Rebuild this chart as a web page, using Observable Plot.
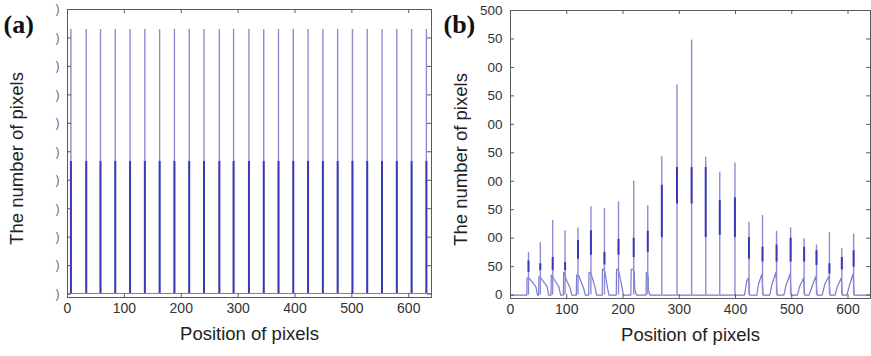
<!DOCTYPE html>
<html><head><meta charset="utf-8">
<script src="https://cdn.jsdelivr.net/npm/d3@7"></script>
<script src="https://cdn.jsdelivr.net/npm/@observablehq/plot@0.6"></script>
<style>
body{margin:0;background:#fff;}
#wrap{position:relative;width:871px;height:356px;overflow:hidden;background:#fff;}
#pa,#pb{position:absolute;top:0;}
#pa{left:0;} #pb{left:440px;}
</style></head><body><div id="wrap"><div id="pa"></div><div id="pb"></div></div>
<script>
// ---- shared axis data ----
const xTicks = [0, 100, 200, 300, 400, 500, 600];
const yTicks = [0, 50, 100, 150, 200, 250, 300, 350, 400, 450, 500];
const yTickLabelsA = [")", ")", ")", ")", ")", ")", ")", ")", ")", ")", ")"];
const yTickLabelsB = ["0", "50", "00", "50", "00", "50", "00", "50", "00", "50", "500"];
const panelTags = ["(a)", "(b)"];
const xLabel = "Position of pixels";
const yLabel = "The number of pixels";

// ---- panel (a) ----
const posA  = [6, 33, 58, 84, 110, 136, 162, 188, 214, 240, 267, 292, 319, 345, 371, 397, 423, 449, 475, 501, 527, 553, 579, 605, 631];
const tallA = [465, 465, 465, 465, 465, 465, 465, 465, 465, 465, 465, 465, 465, 465, 465, 465, 465, 465, 465, 465, 465, 465, 465, 465, 465];
const midA  = [233, 233, 233, 233, 233, 233, 233, 233, 233, 233, 233, 233, 233, 233, 233, 233, 233, 233, 233, 233, 233, 233, 233, 233, 233];
const baseA = 1;

// ---- panel (b) ----
const posB  = [32, 53, 75, 97, 120, 143, 167, 192, 219, 244, 269, 296, 322, 347, 372, 399, 424, 448, 473, 498, 522, 544, 567, 589, 610];
const tallB = [75, 92, 131, 113, 118, 155, 152, 164, 200, 157, 243, 369, 448, 242, 216, 232, 128, 140, 112, 118, 99, 88, 110, 82, 107];
const midB  = [60, 55, 66, 57, 96, 113, 75, 98, 100, 112, 193, 224, 224, 224, 166, 171, 101, 84, 88, 100, 84, 78, 55, 66, 78];
const lowB  = [40, 43, 43, 43, 63, 70, 53, 70, 66, 75, 101, 160, 160, 101, 105, 101, 63, 58, 58, 58, 58, 52, 37, 44, 49];
// hump around each peak (rise before, shoulder after)
const riseW = [3, 3, 3, 3, 3, 4, 4, 4, 5, 3, 1, 1, 1, 1, 1, 1, 8, 10, 12, 12, 12, 13, 13, 12, 12];
const riseS = [0.5, 0.5, 0.5, 0.5, 0.5, 0.5, 0.5, 0.5, 0.5, 0.5, 0.5, 0.5, 0.5, 0.5, 0.5, 0.5, 4, 3, 4, 4, 4, 5, 5, 4, 4];
const riseA = [30, 32, 35, 40, 35, 40, 45, 45, 45, 40, 0, 0, 0, 0, 0, 0, 25, 20, 20, 18, 15, 15, 20, 15, 15];
const riseB = [30, 32, 35, 40, 35, 40, 45, 45, 45, 40, 0, 0, 0, 0, 0, 0, 30, 37, 40, 37, 30, 33, 33, 30, 37];
const fallW = [16, 15, 14, 12, 13, 10, 8, 9, 5, 4, 1, 1, 1, 1, 1, 1, 2, 2, 2, 2, 2, 2, 2, 2, 2];
const fallC = [30, 30, 30, 30, 35, 35, 40, 40, 40, 30, 0, 0, 0, 0, 0, 0, 0, 0, 0, 0, 0, 0, 0, 0, 0];
const fallD = [15, 15, 15, 12, 12, 15, 15, 15, 10, 10, 0, 0, 0, 0, 0, 0, 0, 0, 0, 0, 0, 0, 0, 0, 0];

const xDomain = [0, 640];
const yDomain = [-6, 500];

// ---- styles ----
const LIGHT = "#8c8cd4", DARK = "#3a3ab6", LINE = "#7a7ad0", FRAME = "#5a5a5a", TXT = "#333";
const FONT = "'Liberation Sans', Arial, sans-serif";

const peaksA = posA.map((p, i) => ({pos: p, tall: tallA[i], mid: midA[i]}));
const peaksB = posB.map((p, i) => ({pos: p, tall: tallB[i], mid: midB[i], low: lowB[i]}));
const lineB = [{x: xDomain[0], y: 0}];
posB.forEach((p, i) => {
  lineB.push(
    {x: p - riseW[i], y: 0},
    {x: p - riseW[i] + riseS[i], y: riseA[i]},
    {x: p - 1, y: riseB[i]},
    {x: p + 1, y: fallC[i]},
    {x: p + Math.max(fallW[i] - 3, 1), y: fallD[i]},
    {x: p + fallW[i], y: 0}
  );
});
lineB.push({x: xDomain[1], y: 0});

function frameMarks(innerW, innerH, yLabels, labelDx, yLabFont, yLabFill) {
  return [
    Plot.frame({stroke: FRAME, strokeWidth: 1}),
    Plot.ruleX(xTicks, {x: d => d, insetTop: innerH - 4, stroke: FRAME}),
    Plot.ruleX(xTicks, {x: d => d, insetBottom: innerH - 4, stroke: FRAME}),
    Plot.ruleY(yTicks, {y: d => d, insetRight: innerW - 4, stroke: FRAME}),
    Plot.ruleY(yTicks, {y: d => d, insetLeft: innerW - 4, stroke: FRAME}),
    Plot.text(xTicks, {x: d => d, text: d => String(d), frameAnchor: "bottom", dy: 15, fontSize: 14, fill: TXT}),
    Plot.text(yTicks, {y: d => d, text: (d, i) => yLabels[i], frameAnchor: "left", dx: -8, textAnchor: "end", fontSize: yLabFont, fill: yLabFill}),
    Plot.text([xLabel], {text: d => d, frameAnchor: "bottom", dy: 42, textAnchor: "middle", fontSize: 18.5, fill: "#222"}),
    Plot.text([yLabel], {text: d => d, frameAnchor: "left", dx: labelDx, dy: 5, rotate: -90, textAnchor: "middle", fontSize: 18.5, fill: "#222"})
  ];
}

// Panel (a): svg 440 wide, frame x 67..431, y 9..297
const mA = {l: 67, r: 9, t: 9, b: 59}, wA = 440, hA = 356;
const plotA = Plot.plot({
  width: wA, height: hA,
  marginLeft: mA.l, marginRight: mA.r, marginTop: mA.t, marginBottom: mA.b,
  style: {fontFamily: FONT, background: "transparent", overflow: "visible"},
  x: {domain: xDomain, axis: null},
  y: {domain: yDomain, axis: null},
  marks: [
    Plot.ruleY([baseA], {stroke: LINE, strokeWidth: 1.2}),
    Plot.ruleX(peaksA, {x: "pos", y1: baseA, y2: "tall", stroke: LIGHT, strokeWidth: 1.4}),
    Plot.ruleX(peaksA, {x: "pos", y1: baseA, y2: "mid", stroke: DARK, strokeWidth: 2}),
    ...frameMarks(wA - mA.l - mA.r, hA - mA.t - mA.b, yTickLabelsA, -50, 12, "#666"),
    Plot.text([panelTags[0]], {text: d => d, frameAnchor: "top-left", dx: -64, dy: 5, textAnchor: "start",
      fontFamily: "'Liberation Serif', 'Times New Roman', serif", fontWeight: "bold", fontSize: 26, fill: "#111"})
  ]
});
document.getElementById("pa").appendChild(plotA);

// Panel (b): svg 431 wide starting at 440, frame x 510..870, y 10..298
const mB = {l: 70, r: 1, t: 10, b: 58}, wB = 431, hB = 356;
const plotB = Plot.plot({
  width: wB, height: hB,
  marginLeft: mB.l, marginRight: mB.r, marginTop: mB.t, marginBottom: mB.b,
  style: {fontFamily: FONT, background: "transparent", overflow: "visible"},
  x: {domain: xDomain, axis: null},
  y: {domain: yDomain, axis: null},
  marks: [
    Plot.line(lineB, {x: "x", y: "y", stroke: LINE, strokeWidth: 1.2}),
    Plot.ruleX(peaksB, {x: "pos", y1: 0, y2: "tall", stroke: LIGHT, strokeWidth: 1.4}),
    Plot.ruleX(peaksB, {x: "pos", y1: "low", y2: "mid", stroke: DARK, strokeWidth: 2}),
    ...frameMarks(wB - mB.l - mB.r, hB - mB.t - mB.b, yTickLabelsB, -49, 13.5, TXT),
    Plot.text([panelTags[1]], {text: d => d, frameAnchor: "top-left", dx: -67, dy: 4, textAnchor: "start",
      fontFamily: "'Liberation Serif', 'Times New Roman', serif", fontWeight: "bold", fontSize: 26, fill: "#111"})
  ]
});
document.getElementById("pb").appendChild(plotB);
</script>
</body></html>
